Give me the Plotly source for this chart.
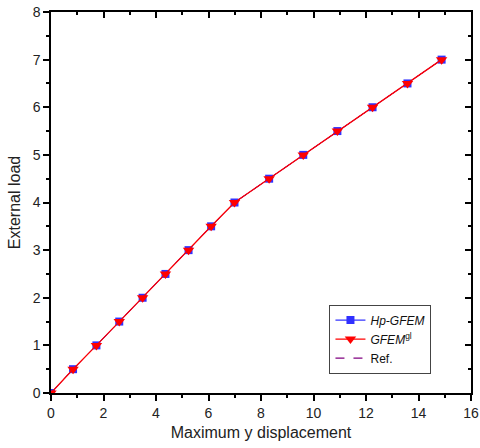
import plotly.graph_objects as go

disp = [0, 0.84, 1.73, 2.6, 3.49, 4.36, 5.24, 6.1, 6.99, 8.31, 9.61, 10.91, 12.25, 13.58, 14.88]
load_hp = [0, 0.5, 1.0, 1.5, 2.0, 2.5, 3.0, 3.5, 4.0, 4.5, 5.0, 5.5, 6.0, 6.5, 7.0]
load_gl = [0, 0.5, 1.0, 1.5, 2.0, 2.5, 3.0, 3.5, 4.0, 4.5, 5.0, 5.5, 6.0, 6.5, 7.0]
load_ref = [0, 0.5, 1.0, 1.5, 2.0, 2.5, 3.0, 3.5, 4.0, 4.5, 5.0, 5.5, 6.0, 6.5, 7.0]

fig = go.Figure()
fig.add_trace(go.Scatter(x=disp, y=load_ref, mode="lines", name="Ref.",
                         line=dict(color="#800080", width=1, dash="dash"), showlegend=False))
fig.add_trace(go.Scatter(x=disp, y=load_hp, mode="lines+markers", name="<i>Hp-GFEM</i>",
                         line=dict(color="#0000ff", width=1),
                         marker=dict(symbol="square", size=8, color="#3030ff")))
fig.add_trace(go.Scatter(x=disp, y=load_gl, mode="lines+markers", name="<i>GFEM</i><sup>gl</sup>",
                         line=dict(color="#ff0000", width=1.3),
                         marker=dict(symbol="triangle-down", size=10, color="#ff0000")))
fig.add_trace(go.Scatter(x=[None], y=[None], mode="lines", name="Ref.",
                         line=dict(color="#800080", width=1.2, dash="dash")))

axis_common = dict(showgrid=False, zeroline=False, showline=True, linecolor="black", linewidth=1.5,
                   tickcolor="black", tickwidth=1.5, ticklen=6,
                   tickfont=dict(family="Liberation Sans, Arial", size=14, color="#222"))

fig.update_layout(
    width=480, height=448,
    margin=dict(l=51, r=9, t=12, b=55),
    plot_bgcolor="white", paper_bgcolor="white",
    font=dict(family="Liberation Sans, Arial", color="#222"),
    xaxis=dict(range=[0, 16], dtick=2, ticks="outside", automargin="height",
               minor=dict(dtick=1, ticks="outside", ticklen=3, tickwidth=1.5, tickcolor="black"),
               title=dict(text="Maximum y displacement", font=dict(size=16), standoff=7),
               **axis_common),
    yaxis=dict(range=[0, 8], dtick=1, ticks="outside", automargin="width",
               minor=dict(dtick=0.5, ticks="outside", ticklen=3, tickwidth=1.5, tickcolor="black"),
               title=dict(text="External load", font=dict(size=16), standoff=8),
               **axis_common),
    xaxis2=dict(overlaying="x", matches="x", side="top", range=[0, 16], dtick=2, ticks="inside",
                showticklabels=False, automargin=False,
                minor=dict(dtick=1, ticks="inside", ticklen=3, tickwidth=1.5, tickcolor="black"),
                **axis_common),
    yaxis2=dict(overlaying="y", matches="y", side="right", range=[0, 8], dtick=1, ticks="inside",
                showticklabels=False, automargin=False,
                minor=dict(dtick=0.5, ticks="inside", ticklen=3, tickwidth=1.5, tickcolor="black"),
                **axis_common),
    legend=dict(x=0.663, y=0.232, xanchor="left", yanchor="top",
                bgcolor="white", bordercolor="#444", borderwidth=1,
                font=dict(family="Liberation Sans, Arial", size=12, color="#111"),
                tracegroupgap=0, itemwidth=30),
    showlegend=True,
)
fig.add_trace(go.Scatter(x=[None], y=[None], xaxis="x2", yaxis="y2", showlegend=False))

fig.write_html("out.html", config={"displayModeBar": False},
               post_script="document.body.style.margin='0';")
